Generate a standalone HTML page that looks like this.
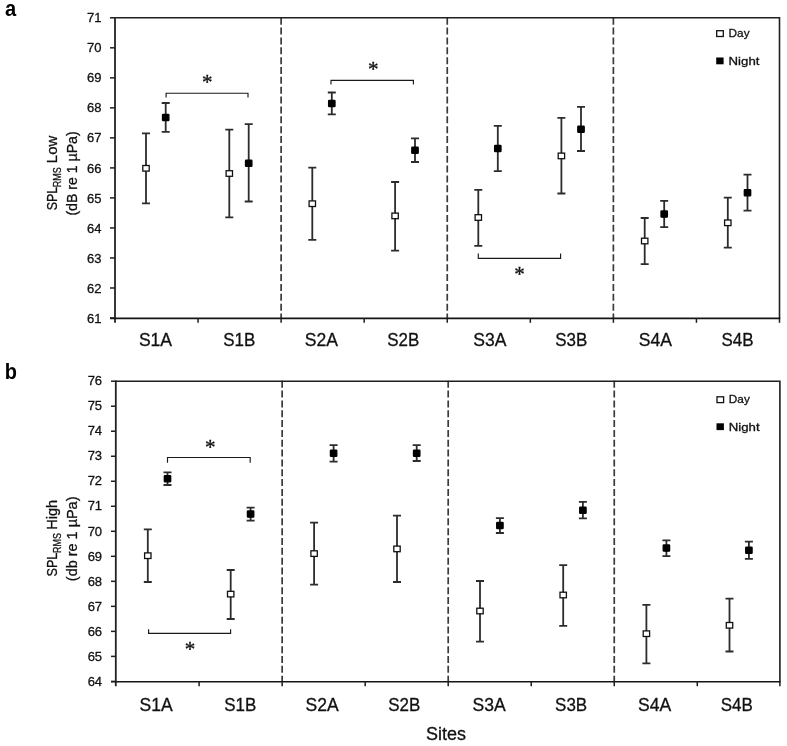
<!DOCTYPE html><html><head><meta charset="utf-8"><style>html,body{margin:0;padding:0;background:#fff;}body{width:787px;height:746px;overflow:hidden;}text{stroke:#111;stroke-width:0.3px;}svg{display:block;filter:grayscale(1);font-family:"Liberation Sans",sans-serif;}</style></head><body>
<svg width="787" height="746" viewBox="0 0 787 746">
<rect width="787" height="746" fill="#fff"/>
<line x1="281.12" y1="17.7" x2="281.12" y2="318" stroke="#3a3a3a" stroke-width="1.7" stroke-dasharray="7.0 2.86"/>
<line x1="447.25" y1="17.7" x2="447.25" y2="318" stroke="#3a3a3a" stroke-width="1.7" stroke-dasharray="7.0 2.86"/>
<line x1="613.38" y1="17.7" x2="613.38" y2="318" stroke="#3a3a3a" stroke-width="1.7" stroke-dasharray="7.0 2.86"/>
<path d="M115 17.8H779.5V318" fill="none" stroke="#1e1e1e" stroke-width="1.6"/>
<line x1="115" y1="17" x2="115" y2="322.8" stroke="#383838" stroke-width="2.0"/>
<line x1="110" y1="318.4" x2="780.3" y2="318.4" stroke="#151515" stroke-width="1.6"/>
<line x1="110" y1="17.8" x2="115" y2="17.8" stroke="#1e1e1e" stroke-width="1.5"/>
<text x="101.4" y="22.4" font-size="13" fill="#111" text-anchor="end">71</text>
<line x1="110" y1="47.82" x2="115" y2="47.82" stroke="#1e1e1e" stroke-width="1.5"/>
<text x="101.4" y="52.42" font-size="13" fill="#111" text-anchor="end">70</text>
<line x1="110" y1="77.84" x2="115" y2="77.84" stroke="#1e1e1e" stroke-width="1.5"/>
<text x="101.4" y="82.44" font-size="13" fill="#111" text-anchor="end">69</text>
<line x1="110" y1="107.86" x2="115" y2="107.86" stroke="#1e1e1e" stroke-width="1.5"/>
<text x="101.4" y="112.46" font-size="13" fill="#111" text-anchor="end">68</text>
<line x1="110" y1="137.88" x2="115" y2="137.88" stroke="#1e1e1e" stroke-width="1.5"/>
<text x="101.4" y="142.48" font-size="13" fill="#111" text-anchor="end">67</text>
<line x1="110" y1="167.9" x2="115" y2="167.9" stroke="#1e1e1e" stroke-width="1.5"/>
<text x="101.4" y="172.5" font-size="13" fill="#111" text-anchor="end">66</text>
<line x1="110" y1="197.92" x2="115" y2="197.92" stroke="#1e1e1e" stroke-width="1.5"/>
<text x="101.4" y="202.52" font-size="13" fill="#111" text-anchor="end">65</text>
<line x1="110" y1="227.94" x2="115" y2="227.94" stroke="#1e1e1e" stroke-width="1.5"/>
<text x="101.4" y="232.54" font-size="13" fill="#111" text-anchor="end">64</text>
<line x1="110" y1="257.96" x2="115" y2="257.96" stroke="#1e1e1e" stroke-width="1.5"/>
<text x="101.4" y="262.56" font-size="13" fill="#111" text-anchor="end">63</text>
<line x1="110" y1="287.98" x2="115" y2="287.98" stroke="#1e1e1e" stroke-width="1.5"/>
<text x="101.4" y="292.58" font-size="13" fill="#111" text-anchor="end">62</text>
<line x1="110" y1="318" x2="115" y2="318" stroke="#1e1e1e" stroke-width="1.5"/>
<text x="101.4" y="322.6" font-size="13" fill="#111" text-anchor="end">61</text>
<line x1="198.06" y1="318" x2="198.06" y2="322.8" stroke="#1e1e1e" stroke-width="1.5"/>
<line x1="281.12" y1="318" x2="281.12" y2="322.8" stroke="#1e1e1e" stroke-width="1.5"/>
<line x1="364.19" y1="318" x2="364.19" y2="322.8" stroke="#1e1e1e" stroke-width="1.5"/>
<line x1="447.25" y1="318" x2="447.25" y2="322.8" stroke="#1e1e1e" stroke-width="1.5"/>
<line x1="530.31" y1="318" x2="530.31" y2="322.8" stroke="#1e1e1e" stroke-width="1.5"/>
<line x1="613.38" y1="318" x2="613.38" y2="322.8" stroke="#1e1e1e" stroke-width="1.5"/>
<line x1="696.44" y1="318" x2="696.44" y2="322.8" stroke="#1e1e1e" stroke-width="1.5"/>
<line x1="779.5" y1="318" x2="779.5" y2="322.8" stroke="#1e1e1e" stroke-width="1.5"/>
<text x="155.5" y="345.6" font-size="18" fill="#111" text-anchor="middle" textLength="33.2" lengthAdjust="spacingAndGlyphs">S1A</text>
<text x="239.3" y="345.6" font-size="18" fill="#111" text-anchor="middle" textLength="32.1" lengthAdjust="spacingAndGlyphs">S1B</text>
<text x="321.4" y="345.6" font-size="18" fill="#111" text-anchor="middle" textLength="33.2" lengthAdjust="spacingAndGlyphs">S2A</text>
<text x="403.2" y="345.6" font-size="18" fill="#111" text-anchor="middle" textLength="32.1" lengthAdjust="spacingAndGlyphs">S2B</text>
<text x="489.9" y="345.6" font-size="18" fill="#111" text-anchor="middle" textLength="33.2" lengthAdjust="spacingAndGlyphs">S3A</text>
<text x="571.2" y="345.6" font-size="18" fill="#111" text-anchor="middle" textLength="32.1" lengthAdjust="spacingAndGlyphs">S3B</text>
<text x="655.4" y="345.6" font-size="18" fill="#111" text-anchor="middle" textLength="33.2" lengthAdjust="spacingAndGlyphs">S4A</text>
<text x="737.5" y="345.6" font-size="18" fill="#111" text-anchor="middle" textLength="32.1" lengthAdjust="spacingAndGlyphs">S4B</text>
<path d="M146 133.3V203.3M142 133.3H150M142 203.3H150" stroke="#2c2c2c" stroke-width="1.8" fill="none"/>
<rect x="142.8" y="165.5" width="6.4" height="5.6" fill="#fff" stroke="#111" stroke-width="1.3"/>
<path d="M165.7 103V131.9M161.7 103H169.7M161.7 131.9H169.7" stroke="#2c2c2c" stroke-width="1.8" fill="none"/>
<rect x="162.5" y="114.3" width="6.4" height="6.2" fill="#000" stroke="#000" stroke-width="1.3" rx="0.6"/>
<path d="M229.3 129.6V217.3M225.3 129.6H233.3M225.3 217.3H233.3" stroke="#2c2c2c" stroke-width="1.8" fill="none"/>
<rect x="226.1" y="170.7" width="6.4" height="5.6" fill="#fff" stroke="#111" stroke-width="1.3"/>
<path d="M248.7 124.2V201.5M244.7 124.2H252.7M244.7 201.5H252.7" stroke="#2c2c2c" stroke-width="1.8" fill="none"/>
<rect x="245.5" y="160.1" width="6.4" height="6.2" fill="#000" stroke="#000" stroke-width="1.3" rx="0.6"/>
<path d="M312.3 167.7V239.8M308.3 167.7H316.3M308.3 239.8H316.3" stroke="#2c2c2c" stroke-width="1.8" fill="none"/>
<rect x="309.1" y="200.9" width="6.4" height="5.6" fill="#fff" stroke="#111" stroke-width="1.3"/>
<path d="M331.8 92.5V114.3M327.8 92.5H335.8M327.8 114.3H335.8" stroke="#2c2c2c" stroke-width="1.8" fill="none"/>
<rect x="328.6" y="100.5" width="6.4" height="6.2" fill="#000" stroke="#000" stroke-width="1.3" rx="0.6"/>
<path d="M395.1 182V250.6M391.1 182H399.1M391.1 250.6H399.1" stroke="#2c2c2c" stroke-width="1.8" fill="none"/>
<rect x="391.9" y="213.1" width="6.4" height="5.6" fill="#fff" stroke="#111" stroke-width="1.3"/>
<path d="M415 138.3V162M411 138.3H419M411 162H419" stroke="#2c2c2c" stroke-width="1.8" fill="none"/>
<rect x="411.8" y="147.1" width="6.4" height="6.2" fill="#000" stroke="#000" stroke-width="1.3" rx="0.6"/>
<path d="M478.3 189.9V245.9M474.3 189.9H482.3M474.3 245.9H482.3" stroke="#2c2c2c" stroke-width="1.8" fill="none"/>
<rect x="475.1" y="214.7" width="6.4" height="5.6" fill="#fff" stroke="#111" stroke-width="1.3"/>
<path d="M497.8 125.9V171.2M493.8 125.9H501.8M493.8 171.2H501.8" stroke="#2c2c2c" stroke-width="1.8" fill="none"/>
<rect x="494.6" y="145.3" width="6.4" height="6.2" fill="#000" stroke="#000" stroke-width="1.3" rx="0.6"/>
<path d="M561.4 117.9V193.5M557.4 117.9H565.4M557.4 193.5H565.4" stroke="#2c2c2c" stroke-width="1.8" fill="none"/>
<rect x="558.2" y="153.1" width="6.4" height="5.6" fill="#fff" stroke="#111" stroke-width="1.3"/>
<path d="M581 106.9V151M577 106.9H585M577 151H585" stroke="#2c2c2c" stroke-width="1.8" fill="none"/>
<rect x="577.8" y="126.1" width="6.4" height="6.2" fill="#000" stroke="#000" stroke-width="1.3" rx="0.6"/>
<path d="M644.7 218V264.2M640.7 218H648.7M640.7 264.2H648.7" stroke="#2c2c2c" stroke-width="1.8" fill="none"/>
<rect x="641.5" y="238.2" width="6.4" height="5.6" fill="#fff" stroke="#111" stroke-width="1.3"/>
<path d="M664.2 200.9V227.2M660.2 200.9H668.2M660.2 227.2H668.2" stroke="#2c2c2c" stroke-width="1.8" fill="none"/>
<rect x="661" y="211" width="6.4" height="6.2" fill="#000" stroke="#000" stroke-width="1.3" rx="0.6"/>
<path d="M727.8 197.6V247.6M723.8 197.6H731.8M723.8 247.6H731.8" stroke="#2c2c2c" stroke-width="1.8" fill="none"/>
<rect x="724.6" y="220" width="6.4" height="5.6" fill="#fff" stroke="#111" stroke-width="1.3"/>
<path d="M747.5 174.6V210.6M743.5 174.6H751.5M743.5 210.6H751.5" stroke="#2c2c2c" stroke-width="1.8" fill="none"/>
<rect x="744.3" y="189.6" width="6.4" height="6.2" fill="#000" stroke="#000" stroke-width="1.3" rx="0.6"/>
<path d="M166.1 97.6V93.2H248V97.6" stroke="#1a1a1a" stroke-width="1.15" fill="none"/>
<text x="202.05" y="89.11" font-family="Liberation Serif" font-size="21" fill="#111" style="stroke:#111;stroke-width:0.35px">*</text>
<path d="M331 84.6V80.3H413.4V84.6" stroke="#1a1a1a" stroke-width="1.15" fill="none"/>
<text x="368.05" y="76.41" font-family="Liberation Serif" font-size="21" fill="#111" style="stroke:#111;stroke-width:0.35px">*</text>
<path d="M478.3 253.5V258.4H560.6V253.5" stroke="#1a1a1a" stroke-width="1.15" fill="none"/>
<text x="514.35" y="280.71" font-family="Liberation Serif" font-size="21" fill="#111" style="stroke:#111;stroke-width:0.35px">*</text>
<rect x="716.7" y="30.7" width="6.6" height="5.8" fill="#fff" stroke="#111" stroke-width="1.3"/>
<rect x="716.2" y="57.5" width="7.4" height="6.8" fill="#000"/>
<text x="728.6" y="36.9" font-size="11.5" fill="#111" textLength="21" lengthAdjust="spacingAndGlyphs">Day</text>
<text x="728.6" y="64.6" font-size="11.5" fill="#111" textLength="30.8" lengthAdjust="spacingAndGlyphs">Night</text>
<text x="5" y="16.4" font-size="22" font-weight="bold" fill="#000" style="stroke:none" textLength="11.2" lengthAdjust="spacingAndGlyphs">a</text>
<text transform="translate(57.1 210.28) rotate(-90)" font-size="15" fill="#111" textLength="23.45" lengthAdjust="spacingAndGlyphs">SPL</text>
<text transform="translate(61.3 187.3) rotate(-90)" font-size="11" fill="#111" textLength="20.09" lengthAdjust="spacingAndGlyphs">RMS</text>
<text transform="translate(57.1 163.18) rotate(-90)" font-size="15" fill="#111" textLength="27.45" lengthAdjust="spacingAndGlyphs">Low</text>
<text transform="translate(76.8 215.58) rotate(-90)" font-size="15" fill="#111" textLength="84.25" lengthAdjust="spacingAndGlyphs">(dB re 1 µPa)</text>
<line x1="282.15" y1="380.75" x2="282.15" y2="681.4" stroke="#3a3a3a" stroke-width="1.7" stroke-dasharray="7.0 2.83"/>
<line x1="448.2" y1="380.75" x2="448.2" y2="681.4" stroke="#3a3a3a" stroke-width="1.7" stroke-dasharray="7.0 2.83"/>
<line x1="614.25" y1="380.75" x2="614.25" y2="681.4" stroke="#3a3a3a" stroke-width="1.7" stroke-dasharray="7.0 2.83"/>
<path d="M115.7 381.2H779.9V681.4" fill="none" stroke="#1e1e1e" stroke-width="1.6"/>
<line x1="115.8" y1="380.4" x2="115.8" y2="686.2" stroke="#222" stroke-width="1.8"/>
<line x1="111" y1="681.8" x2="780.7" y2="681.8" stroke="#151515" stroke-width="1.6"/>
<line x1="111" y1="381.2" x2="115.7" y2="381.2" stroke="#1e1e1e" stroke-width="1.5"/>
<text x="102.1" y="385.4" font-size="13" fill="#111" text-anchor="end">76</text>
<line x1="111" y1="406.22" x2="115.7" y2="406.22" stroke="#1e1e1e" stroke-width="1.5"/>
<text x="102.1" y="410.42" font-size="13" fill="#111" text-anchor="end">75</text>
<line x1="111" y1="431.23" x2="115.7" y2="431.23" stroke="#1e1e1e" stroke-width="1.5"/>
<text x="102.1" y="435.43" font-size="13" fill="#111" text-anchor="end">74</text>
<line x1="111" y1="456.25" x2="115.7" y2="456.25" stroke="#1e1e1e" stroke-width="1.5"/>
<text x="102.1" y="460.45" font-size="13" fill="#111" text-anchor="end">73</text>
<line x1="111" y1="481.27" x2="115.7" y2="481.27" stroke="#1e1e1e" stroke-width="1.5"/>
<text x="102.1" y="485.47" font-size="13" fill="#111" text-anchor="end">72</text>
<line x1="111" y1="506.28" x2="115.7" y2="506.28" stroke="#1e1e1e" stroke-width="1.5"/>
<text x="102.1" y="510.48" font-size="13" fill="#111" text-anchor="end">71</text>
<line x1="111" y1="531.3" x2="115.7" y2="531.3" stroke="#1e1e1e" stroke-width="1.5"/>
<text x="102.1" y="535.5" font-size="13" fill="#111" text-anchor="end">70</text>
<line x1="111" y1="556.32" x2="115.7" y2="556.32" stroke="#1e1e1e" stroke-width="1.5"/>
<text x="102.1" y="560.52" font-size="13" fill="#111" text-anchor="end">69</text>
<line x1="111" y1="581.33" x2="115.7" y2="581.33" stroke="#1e1e1e" stroke-width="1.5"/>
<text x="102.1" y="585.53" font-size="13" fill="#111" text-anchor="end">68</text>
<line x1="111" y1="606.35" x2="115.7" y2="606.35" stroke="#1e1e1e" stroke-width="1.5"/>
<text x="102.1" y="610.55" font-size="13" fill="#111" text-anchor="end">67</text>
<line x1="111" y1="631.37" x2="115.7" y2="631.37" stroke="#1e1e1e" stroke-width="1.5"/>
<text x="102.1" y="635.57" font-size="13" fill="#111" text-anchor="end">66</text>
<line x1="111" y1="656.38" x2="115.7" y2="656.38" stroke="#1e1e1e" stroke-width="1.5"/>
<text x="102.1" y="660.58" font-size="13" fill="#111" text-anchor="end">65</text>
<line x1="111" y1="681.4" x2="115.7" y2="681.4" stroke="#1e1e1e" stroke-width="1.5"/>
<text x="102.1" y="685.6" font-size="13" fill="#111" text-anchor="end">64</text>
<line x1="199.12" y1="681.4" x2="199.12" y2="686.2" stroke="#1e1e1e" stroke-width="1.5"/>
<line x1="282.15" y1="681.4" x2="282.15" y2="686.2" stroke="#1e1e1e" stroke-width="1.5"/>
<line x1="365.17" y1="681.4" x2="365.17" y2="686.2" stroke="#1e1e1e" stroke-width="1.5"/>
<line x1="448.2" y1="681.4" x2="448.2" y2="686.2" stroke="#1e1e1e" stroke-width="1.5"/>
<line x1="531.22" y1="681.4" x2="531.22" y2="686.2" stroke="#1e1e1e" stroke-width="1.5"/>
<line x1="614.25" y1="681.4" x2="614.25" y2="686.2" stroke="#1e1e1e" stroke-width="1.5"/>
<line x1="697.27" y1="681.4" x2="697.27" y2="686.2" stroke="#1e1e1e" stroke-width="1.5"/>
<line x1="779.9" y1="681.4" x2="779.9" y2="686.2" stroke="#1e1e1e" stroke-width="1.5"/>
<text x="156.2" y="710.5" font-size="18" fill="#111" text-anchor="middle" textLength="33.2" lengthAdjust="spacingAndGlyphs">S1A</text>
<text x="240.2" y="710.5" font-size="18" fill="#111" text-anchor="middle" textLength="32.1" lengthAdjust="spacingAndGlyphs">S1B</text>
<text x="322.2" y="710.5" font-size="18" fill="#111" text-anchor="middle" textLength="33.2" lengthAdjust="spacingAndGlyphs">S2A</text>
<text x="404.2" y="710.5" font-size="18" fill="#111" text-anchor="middle" textLength="32.1" lengthAdjust="spacingAndGlyphs">S2B</text>
<text x="489.05" y="710.5" font-size="18" fill="#111" text-anchor="middle" textLength="33.2" lengthAdjust="spacingAndGlyphs">S3A</text>
<text x="571.15" y="710.5" font-size="18" fill="#111" text-anchor="middle" textLength="32.1" lengthAdjust="spacingAndGlyphs">S3B</text>
<text x="654.7" y="710.5" font-size="18" fill="#111" text-anchor="middle" textLength="33.2" lengthAdjust="spacingAndGlyphs">S4A</text>
<text x="736.75" y="710.5" font-size="18" fill="#111" text-anchor="middle" textLength="32.1" lengthAdjust="spacingAndGlyphs">S4B</text>
<path d="M147.8 529.3V582M143.8 529.3H151.8M143.8 582H151.8" stroke="#2c2c2c" stroke-width="1.8" fill="none"/>
<rect x="144.6" y="552.9" width="6.4" height="5.6" fill="#fff" stroke="#111" stroke-width="1.3"/>
<path d="M167.5 472.3V485M163.5 472.3H171.5M163.5 485H171.5" stroke="#2c2c2c" stroke-width="1.8" fill="none"/>
<rect x="164.3" y="475.6" width="6.4" height="6.2" fill="#000" stroke="#000" stroke-width="1.3" rx="0.6"/>
<path d="M230.7 570V619M226.7 570H234.7M226.7 619H234.7" stroke="#2c2c2c" stroke-width="1.8" fill="none"/>
<rect x="227.5" y="591.3" width="6.4" height="5.6" fill="#fff" stroke="#111" stroke-width="1.3"/>
<path d="M250.6 507.7V520.6M246.6 507.7H254.6M246.6 520.6H254.6" stroke="#2c2c2c" stroke-width="1.8" fill="none"/>
<rect x="247.4" y="511" width="6.4" height="6.2" fill="#000" stroke="#000" stroke-width="1.3" rx="0.6"/>
<path d="M314.1 522.6V584.7M310.1 522.6H318.1M310.1 584.7H318.1" stroke="#2c2c2c" stroke-width="1.8" fill="none"/>
<rect x="310.9" y="550.8" width="6.4" height="5.6" fill="#fff" stroke="#111" stroke-width="1.3"/>
<path d="M333.6 445.2V461.7M329.6 445.2H337.6M329.6 461.7H337.6" stroke="#2c2c2c" stroke-width="1.8" fill="none"/>
<rect x="330.4" y="450.1" width="6.4" height="6.2" fill="#000" stroke="#000" stroke-width="1.3" rx="0.6"/>
<path d="M397 515.7V582M393 515.7H401M393 582H401" stroke="#2c2c2c" stroke-width="1.8" fill="none"/>
<rect x="393.8" y="546.1" width="6.4" height="5.6" fill="#fff" stroke="#111" stroke-width="1.3"/>
<path d="M416.7 445.2V461M412.7 445.2H420.7M412.7 461H420.7" stroke="#2c2c2c" stroke-width="1.8" fill="none"/>
<rect x="413.5" y="450.1" width="6.4" height="6.2" fill="#000" stroke="#000" stroke-width="1.3" rx="0.6"/>
<path d="M480 581V641.7M476 581H484M476 641.7H484" stroke="#2c2c2c" stroke-width="1.8" fill="none"/>
<rect x="476.8" y="608.2" width="6.4" height="5.6" fill="#fff" stroke="#111" stroke-width="1.3"/>
<path d="M499.9 518.2V533M495.9 518.2H503.9M495.9 533H503.9" stroke="#2c2c2c" stroke-width="1.8" fill="none"/>
<rect x="496.7" y="522.4" width="6.4" height="6.2" fill="#000" stroke="#000" stroke-width="1.3" rx="0.6"/>
<path d="M563.2 565.2V625.8M559.2 565.2H567.2M559.2 625.8H567.2" stroke="#2c2c2c" stroke-width="1.8" fill="none"/>
<rect x="560" y="592.2" width="6.4" height="5.6" fill="#fff" stroke="#111" stroke-width="1.3"/>
<path d="M582.9 501.8V518.4M578.9 501.8H586.9M578.9 518.4H586.9" stroke="#2c2c2c" stroke-width="1.8" fill="none"/>
<rect x="579.7" y="507.1" width="6.4" height="6.2" fill="#000" stroke="#000" stroke-width="1.3" rx="0.6"/>
<path d="M646.4 604.9V663.3M642.4 604.9H650.4M642.4 663.3H650.4" stroke="#2c2c2c" stroke-width="1.8" fill="none"/>
<rect x="643.2" y="630.9" width="6.4" height="5.6" fill="#fff" stroke="#111" stroke-width="1.3"/>
<path d="M666.4 540.4V556.2M662.4 540.4H670.4M662.4 556.2H670.4" stroke="#2c2c2c" stroke-width="1.8" fill="none"/>
<rect x="663.2" y="545" width="6.4" height="6.2" fill="#000" stroke="#000" stroke-width="1.3" rx="0.6"/>
<path d="M729.5 598.6V651.5M725.5 598.6H733.5M725.5 651.5H733.5" stroke="#2c2c2c" stroke-width="1.8" fill="none"/>
<rect x="726.3" y="622.5" width="6.4" height="5.6" fill="#fff" stroke="#111" stroke-width="1.3"/>
<path d="M748.9 541.6V558.9M744.9 541.6H752.9M744.9 558.9H752.9" stroke="#2c2c2c" stroke-width="1.8" fill="none"/>
<rect x="745.7" y="547.1" width="6.4" height="6.2" fill="#000" stroke="#000" stroke-width="1.3" rx="0.6"/>
<path d="M167.5 462.7V457.5H250.2V462.7" stroke="#1a1a1a" stroke-width="1.15" fill="none"/>
<text x="204.95" y="454.21" font-family="Liberation Serif" font-size="21" fill="#111" style="stroke:#111;stroke-width:0.35px">*</text>
<path d="M148.6 629.3V633.3H230.6V629.3" stroke="#1a1a1a" stroke-width="1.15" fill="none"/>
<text x="184.85" y="656.11" font-family="Liberation Serif" font-size="21" fill="#111" style="stroke:#111;stroke-width:0.35px">*</text>
<rect x="717" y="396.8" width="6.6" height="5.8" fill="#fff" stroke="#111" stroke-width="1.3"/>
<rect x="716.5" y="423.3" width="7.4" height="6.8" fill="#000"/>
<text x="728.8" y="402.8" font-size="11.5" fill="#111" textLength="21" lengthAdjust="spacingAndGlyphs">Day</text>
<text x="728.8" y="430.6" font-size="11.5" fill="#111" textLength="30.8" lengthAdjust="spacingAndGlyphs">Night</text>
<text x="4.7" y="378.6" font-size="22" font-weight="bold" fill="#000" style="stroke:none" textLength="12.2" lengthAdjust="spacingAndGlyphs">b</text>
<text transform="translate(57.1 576.57) rotate(-90)" font-size="15" fill="#111" textLength="23.95" lengthAdjust="spacingAndGlyphs">SPL</text>
<text transform="translate(61.3 553) rotate(-90)" font-size="11" fill="#111" textLength="19.89" lengthAdjust="spacingAndGlyphs">RMS</text>
<text transform="translate(57.1 529.67) rotate(-90)" font-size="15" fill="#111" textLength="29.85" lengthAdjust="spacingAndGlyphs">High</text>
<text transform="translate(76.8 581.17) rotate(-90)" font-size="15" fill="#111" textLength="84.65" lengthAdjust="spacingAndGlyphs">(db re 1 µPa)</text>
<text x="446" y="739.6" font-size="18" fill="#111" text-anchor="middle">Sites</text>
</svg></body></html>
